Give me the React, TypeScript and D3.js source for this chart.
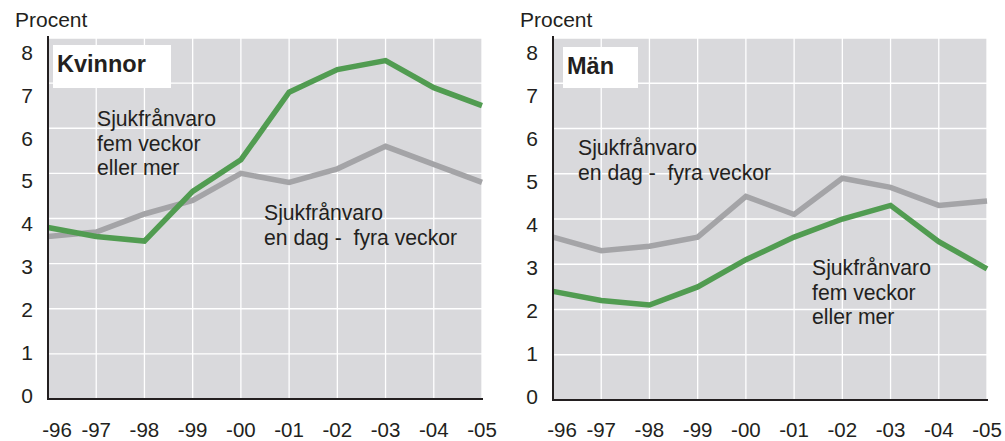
import React from "react";
import * as d3 from "d3";

const years = ["-96", "-97", "-98", "-99", "-00", "-01", "-02", "-03", "-04", "-05"];
const yTicks = [0, 1, 2, 3, 4, 5, 6, 7, 8];

const womenLong = [3.8, 3.6, 3.5, 4.6, 5.3, 6.8, 7.3, 7.5, 6.9, 6.5];
const womenShort = [3.6, 3.7, 4.1, 4.4, 5.0, 4.8, 5.1, 5.6, 5.2, 4.8];
const menShort = [3.6, 3.3, 3.4, 3.6, 4.5, 4.1, 4.9, 4.7, 4.3, 4.4];
const menLong = [2.4, 2.2, 2.1, 2.5, 3.1, 3.6, 4.0, 4.3, 3.5, 2.9];

const GREEN = "#519c51";
const GREY = "#a4a4a7";
const BG = "#d9d9dc";
const FONT = "'Liberation Sans', Arial, Helvetica, sans-serif";

type Label = { lines: string[]; x: number; y: number };

type PanelProps = {
  left: number;
  right: number;
  top: number;
  bottom: number;
  title: string;
  titleBox: [number, number, number, number];
  long: number[];
  short: number[];
  labels: Label[];
};

function Panel(p: PanelProps) {
  const x = d3.scalePoint<string>().domain(years).range([p.left, p.right]);
  const y = d3.scaleLinear().domain([0, 8]).range([p.bottom, p.top]);
  const yLab = d3.scaleLinear().domain([0, 8]).range([p.bottom - 4, p.top + 14.5]);
  const line = d3
    .line<number>()
    .x((_, i) => x(years[i]) as number)
    .y((d) => y(d));
  const [bx, by, bw, bh] = p.titleBox;
  return (
    <g fontFamily={FONT}>
      <text x={p.left - 33} y={27} fontSize={21} fill="#231f20">
        Procent
      </text>
      <rect x={p.left} y={p.top} width={p.right - p.left} height={p.bottom - p.top} fill={BG} />
      {yTicks.map((t) => (
        <line key={"h" + t} x1={p.left} x2={p.right} y1={y(t)} y2={y(t)} stroke="#fff" strokeWidth={1.3} />
      ))}
      {years.map((yr) => (
        <line key={"v" + yr} x1={x(yr)} x2={x(yr)} y1={p.top} y2={p.bottom} stroke="#fff" strokeWidth={1.3} />
      ))}
      <rect x={bx} y={by} width={bw} height={bh} fill="#fff" />
      <text x={bx + 4} y={by + 27} fontSize={23.5} fontWeight="bold" fill="#231f20">
        {p.title}
      </text>
      <path d={line(p.short) || ""} fill="none" stroke={GREY} strokeWidth={5.5} strokeLinejoin="miter" />
      <path d={line(p.long) || ""} fill="none" stroke={GREEN} strokeWidth={5.5} strokeLinejoin="miter" />
      {p.labels.map((l, i) => (
        <text key={i} x={l.x} y={l.y} fontSize={21.2} fill="#231f20" style={{ whiteSpace: "pre" }}>
          {l.lines.map((s, j) => (
            <tspan key={j} x={l.x} dy={j === 0 ? 0 : 24.5}>
              {s}
            </tspan>
          ))}
        </text>
      ))}
      <line x1={p.left} x2={p.left} y1={p.top - 2} y2={p.bottom + 1} stroke="#231f20" strokeWidth={2} />
      <line x1={p.left - 1} x2={p.right + 1} y1={p.bottom} y2={p.bottom} stroke="#231f20" strokeWidth={2} />
      {yTicks.map((t) => (
        <text
          key={"yl" + t}
          x={p.left - 15}
          y={yLab(t)}
          fontSize={21}
          textAnchor="end"
          dominantBaseline="central"
          fill="#231f20"
        >
          {t}
        </text>
      ))}
      {years.map((yr, i) => (
        <text
          key={"xl" + yr}
          x={(x(yr) as number) + (i === 0 ? 9 : 0)}
          y={437}
          fontSize={20.5}
          textAnchor="middle"
          fill="#231f20"
        >
          {yr}
        </text>
      ))}
    </g>
  );
}

export default function App() {
  return (
    <svg
      width={1005}
      height={441}
      style={{ position: "absolute", left: 0, top: 0, background: "#fff" }}
    >
      <Panel
        left={48}
        right={482}
        top={38}
        bottom={399}
        title="Kvinnor"
        titleBox={[53, 45, 118, 43]}
        long={womenLong}
        short={womenShort}
        labels={[
          { lines: ["Sjukfrånvaro", "fem veckor", "eller mer"], x: 97, y: 126 },
          { lines: ["Sjukfrånvaro", "en dag -  fyra veckor"], x: 264, y: 220 },
        ]}
      />
      <Panel
        left={553}
        right={987}
        top={38}
        bottom={400}
        title="Män"
        titleBox={[563, 47, 75, 41]}
        long={menLong}
        short={menShort}
        labels={[
          { lines: ["Sjukfrånvaro", "en dag -  fyra veckor"], x: 578, y: 155 },
          { lines: ["Sjukfrånvaro", "fem veckor", "eller mer"], x: 812, y: 275 },
        ]}
      />
    </svg>
  );
}
